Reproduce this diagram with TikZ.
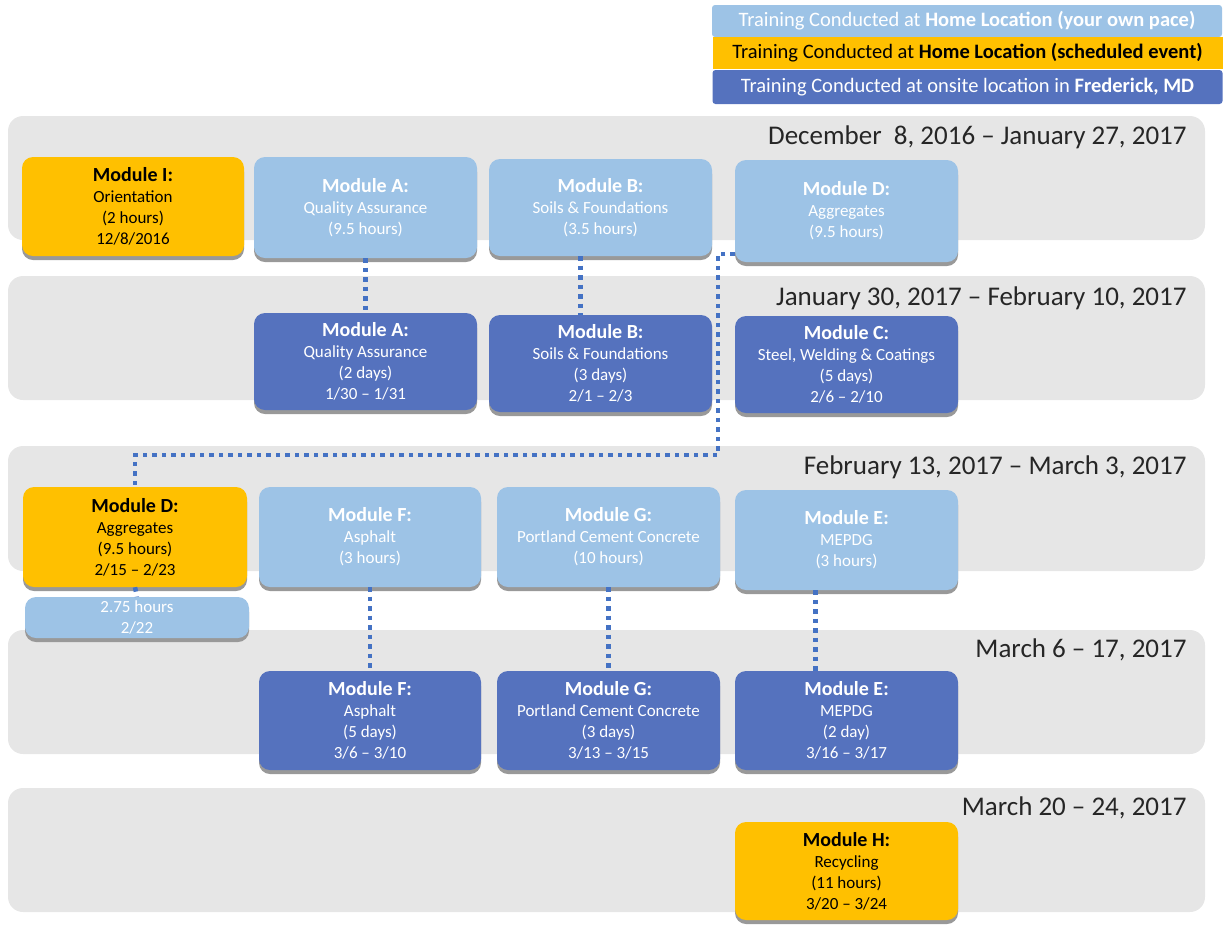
\documentclass[tikz,border=0pt]{standalone}
\usepackage{fontspec}
\setmainfont{Carlito}
\usetikzlibrary{calc,shadows}

\definecolor{homeblue}{HTML}{9DC3E6}
\definecolor{schedyellow}{HTML}{FFC000}
\definecolor{onsiteblue}{HTML}{5572BE}
\definecolor{linkblue}{HTML}{4472C4}
\definecolor{bandgray}{HTML}{E6E6E6}

\newcommand{\modtitle}[1]{{\fontsize{20}{22}\selectfont\bfseries #1}}

\begin{document}
\begin{tikzpicture}[x=1pt, y=-1pt,
    band/.style={fill=bandgray, rounded corners=15pt},
    datetext/.style={anchor=east, font=\fontsize{27}{30}\selectfont, text=black!85},
    module/.style={rounded corners=11pt, align=center, minimum width=223pt,
        minimum height=99pt, inner sep=2pt, font=\fontsize{17}{21}\selectfont,
        drop shadow={shadow xshift=0pt, shadow yshift=-4pt, fill=black!40, opacity=1}},
    home/.style={module, fill=homeblue, text=white},
    sched/.style={module, fill=schedyellow, text=black},
    onsite/.style={module, fill=onsiteblue, text=white},
    legend/.style={minimum width=510pt, font=\fontsize{20.5}{22}\selectfont, inner sep=0pt},
    link/.style={draw=linkblue, line width=4.5pt, dash pattern=on 4.5pt off 5pt}]
    \useasboundingbox (0,0) rectangle (1225,930);

    % legend
    \node[legend, fill=homeblue, text=white, minimum height=32pt, rounded corners=3pt]
        (L1) at (967,21) {Training Conducted at \textbf{Home Location (your own pace)}};
    \node[legend, fill=schedyellow, text=black, minimum height=32pt]
        (L2) at (967.5,52.5) {Training Conducted at \textbf{Home Location (scheduled event)}};
    \node[legend, fill=onsiteblue, text=white, minimum height=34pt, rounded corners=3pt]
        (L3) at (967.5,87) {Training Conducted at onsite location in \textbf{Frederick, MD}};

    % week bands
    \fill[band] (8,116) rectangle (1205,240);
    \fill[band] (8,276) rectangle (1205,400);
    \fill[band] (8,446) rectangle (1205,571);
    \fill[band] (8,630) rectangle (1205,754);
    \fill[band] (8,788) rectangle (1205,912);
    \node[datetext] (D1) at (1190,137) {December \ 8, 2016 -- January 27, 2017};
    \node[datetext] (D2) at (1190,298) {January 30, 2017 -- February 10, 2017};
    \node[datetext] (D3) at (1190,467) {February 13, 2017 -- March 3, 2017};
    \node[datetext] (D4) at (1190,650) {March 6 -- 17, 2017};
    \node[datetext] (D5) at (1190,808) {March 20 -- 24, 2017};

    % first block
    \node[sched, minimum width=222pt] (MI) at (133,206.5)
        {\modtitle{Module I:}\\Orientation\\(2 hours)\\12/8/2016};
    \node[home, minimum height=101pt] (MA1) at (365.5,207.5)
        {\modtitle{Module A:}\\Quality Assurance\\(9.5 hours)};
    \node[home, minimum height=97pt] (MB1) at (600.5,207.5)
        {\modtitle{Module B:}\\Soils \& Foundations\\(3.5 hours)};
    \node[home, minimum height=102pt] (MD1) at (846.5,211)
        {\modtitle{Module D:}\\Aggregates\\(9.5 hours)};

    % second block
    \node[onsite, minimum height=97pt] (MA2) at (365.5,361.5)
        {\modtitle{Module A:}\\Quality Assurance\\(2 days)\\1/30 -- 1/31};
    \node[onsite, minimum height=97pt] (MB2) at (600.5,363.5)
        {\modtitle{Module B:}\\Soils \& Foundations\\(3 days)\\2/1 -- 2/3};
    \node[onsite, minimum height=97pt] (MC2) at (846.5,364.5)
        {\modtitle{Module C:}\\Steel, Welding \& Coatings\\(5 days)\\2/6 -- 2/10};

    % third block
    \node[sched, minimum width=224pt, minimum height=100pt] (MD3) at (135,537)
        {\modtitle{Module D:}\\Aggregates\\(9.5 hours)\\2/15 -- 2/23};
    \node[home, minimum width=222pt, minimum height=100pt] (MF3) at (370,537)
        {\modtitle{Module F:}\\Asphalt\\(3 hours)};
    \node[home, minimum height=100pt] (MG3) at (608.5,537)
        {\modtitle{Module G:}\\Portland Cement Concrete\\(10 hours)};
    \node[home, minimum height=100pt] (ME3) at (846.5,540)
        {\modtitle{Module E:}\\MEPDG\\(3 hours)};
    \node[home, minimum width=224pt, minimum height=41pt, inner sep=0pt] (MDx) at (137,617.5)
        {2.75 hours\\2/22};

    % fourth block
    \node[onsite, minimum width=222pt] (MF4) at (370,720.5)
        {\modtitle{Module F:}\\Asphalt\\(5 days)\\3/6 -- 3/10};
    \node[onsite] (MG4) at (608.5,720.5)
        {\modtitle{Module G:}\\Portland Cement Concrete\\(3 days)\\3/13 -- 3/15};
    \node[onsite] (ME4) at (846.5,720.5)
        {\modtitle{Module E:}\\MEPDG\\(2 day)\\3/16 -- 3/17};

    % fifth block
    \node[sched, minimum height=98pt] (MH5) at (846.5,871)
        {\modtitle{Module H:}\\Recycling\\(11 hours)\\3/20 -- 3/24};

    % links
    \coordinate (bend1) at (718,455);
    \draw[link] (MA1.south) -- (MA2.north);
    \draw[link] ($(MB1.south)+(-20,0)$) -- ($(MB2.north)+(-20,0)$);
    \draw[link] ($(MD1.south west)+(0,-8)$) -| (bend1) -| (MD3.north);
    \draw[link] (MD3.south) -- (MDx.north);
    \draw[link] (MF3.south) -- (MF4.north);
    \draw[link] (MG3.south) -- (MG4.north);
    \draw[link] ($(ME3.south)+(-31,0)$) -- ($(ME4.north)+(-31,0)$);
\end{tikzpicture}
\end{document}
